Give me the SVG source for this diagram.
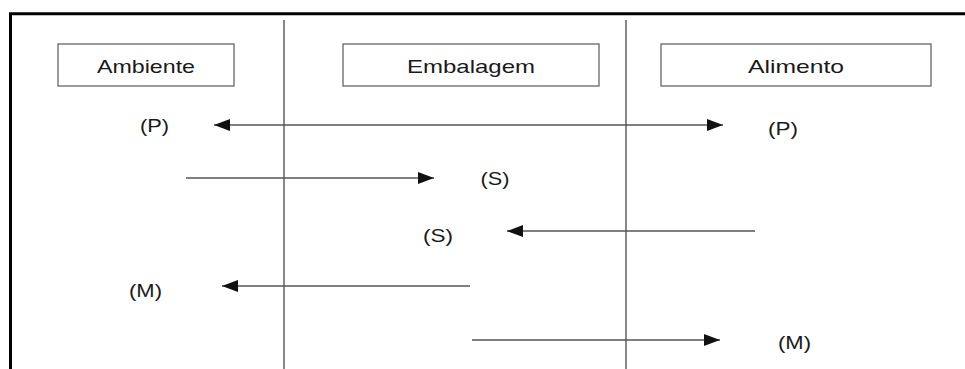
<svg xmlns="http://www.w3.org/2000/svg" width="965" height="369" viewBox="0 0 965 369">
  <style>
    .frame { fill: none; stroke: #000; stroke-width: 3; }
    .divider { stroke: #555; stroke-width: 1.4; }
    .box rect { fill: #fff; stroke: #666; stroke-width: 1.3; }
    .box text, .lbl { font-family: "Liberation Sans", Arial, sans-serif; fill: #1a1a1a; font-size: 19px; text-anchor: middle; }
    .flow { stroke: #555; stroke-width: 1.3; fill: none; }
  </style>
  <defs>
    <marker id="head" viewBox="0 0 16 12" refX="16" refY="6" markerWidth="16" markerHeight="12" markerUnits="userSpaceOnUse" orient="auto-start-reverse">
      <path d="M0,0 L16,6 L0,12 Z" fill="#111"/>
    </marker>
  </defs>

  <rect width="965" height="369" fill="#fff"/>

  <!-- outer frame: top and left edges only -->
  <path class="frame" d="M10.5,369 V13.8 H965"/>

  <!-- column dividers -->
  <line class="divider" x1="284" y1="20" x2="284" y2="369"/>
  <line class="divider" x1="626" y1="20" x2="626" y2="369"/>

  <!-- column headers -->
  <g id="ambiente" class="box">
    <rect x="58" y="44" width="176" height="42"/>
    <text x="146" y="72.5" textLength="98" lengthAdjust="spacingAndGlyphs">Ambiente</text>
  </g>
  <g id="embalagem" class="box">
    <rect x="343" y="44" width="256" height="42"/>
    <text x="471" y="72.5" textLength="128" lengthAdjust="spacingAndGlyphs">Embalagem</text>
  </g>
  <g id="alimento" class="box">
    <rect x="661" y="44" width="270" height="42"/>
    <text x="796" y="72.5" textLength="96" lengthAdjust="spacingAndGlyphs">Alimento</text>
  </g>

  <!-- transfer arrows -->
  <g id="connectors">
    <line class="flow" x1="214" y1="125" x2="723" y2="125" marker-start="url(#head)" marker-end="url(#head)"/>
    <line class="flow" x1="186" y1="178" x2="434" y2="178" marker-end="url(#head)"/>
    <line class="flow" x1="755" y1="231" x2="507" y2="231" marker-end="url(#head)"/>
    <line class="flow" x1="470" y1="286" x2="222" y2="286" marker-end="url(#head)"/>
    <line class="flow" x1="472" y1="340" x2="720" y2="340" marker-end="url(#head)"/>
  </g>

  <!-- arrow labels -->
  <g id="labels">
    <text class="lbl" x="154.5" y="131.5" textLength="29" lengthAdjust="spacingAndGlyphs">(P)</text>
    <text class="lbl" x="783" y="134.5" textLength="30" lengthAdjust="spacingAndGlyphs">(P)</text>
    <text class="lbl" x="495" y="184.5" textLength="29" lengthAdjust="spacingAndGlyphs">(S)</text>
    <text class="lbl" x="438" y="241.5" textLength="30" lengthAdjust="spacingAndGlyphs">(S)</text>
    <text class="lbl" x="145.5" y="296.5" textLength="33" lengthAdjust="spacingAndGlyphs">(M)</text>
    <text class="lbl" x="794.5" y="348.5" textLength="33" lengthAdjust="spacingAndGlyphs">(M)</text>
  </g>
</svg>
